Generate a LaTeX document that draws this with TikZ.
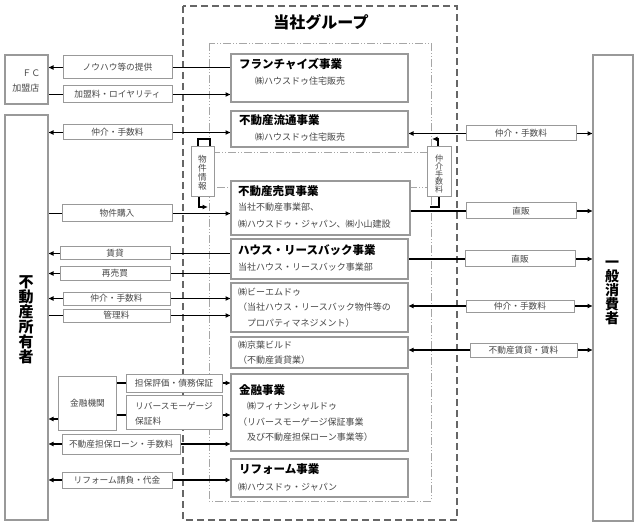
\documentclass[tikz,border=0pt]{standalone}
\usepackage{fontspec}
\setmainfont{Noto Sans CJK JP}
\usetikzlibrary{arrows.meta,backgrounds}
\tikzset{
 gbox/.style={draw=black!40, line width=1.2pt, fill=white, inner sep=0pt, outer sep=0pt},
 lbl/.style={gbox, line width=1pt, font=\fontsize{8.7}{10}\selectfont, text=black!72},
 ttl/.style={anchor=west, inner sep=0pt, font=\bfseries\fontsize{11.5}{13}\selectfont},
 subt/.style={anchor=west, inner sep=0pt, font=\fontsize{9}{10}\selectfont, text=black!72},
 conn/.style={line width=1.5pt, draw=black},
 arrR/.style={-{Latex[length=5.5pt,width=5pt]}},
 arrB/.style={{Latex[length=5.5pt,width=5pt]}-{Latex[length=5.5pt,width=5pt]}},
 ddot/.style={draw=black!35, line width=0.8pt, dash pattern=on 8pt off 2pt on 1pt off 2pt on 1pt off 2pt},
 bigdash/.style={draw=black!60, line width=1.6pt, dash pattern=on 7pt off 4pt},
 vtext/.style={align=center, inner sep=0pt, text=black!72},
}
\begin{document}
\begin{tikzpicture}[x=1pt,y=-1pt]
\useasboundingbox (0,0) rectangle (638,524);

% title
\node[font=\bfseries\fontsize{16}{18}\selectfont, inner sep=0pt] (title) at (321,22) {当社グループ};

% outer parties
\node[gbox, minimum width=43pt, minimum height=49pt] (fc) at (26.5,79.5) {};
\node[inner sep=0pt, font=\fontsize{9}{10}\selectfont, text=black!72] (fct1) at (31.5,73) {ＦＣ};
\node[inner sep=0pt, font=\fontsize{9}{10}\selectfont, text=black!72] (fct2) at (26,88) {加盟店};
\node[gbox, minimum width=43pt, minimum height=405pt] (own) at (26.5,317.5) {};
\node[align=center, inner sep=0pt, font=\bfseries\fontsize{15}{15}\selectfont] (ownt) at (26,320) {不\\動\\産\\所\\有\\者};
\node[gbox, minimum width=40pt, minimum height=466pt] (con) at (613,288) {};
\node[align=center, inner sep=0pt, font=\bfseries\fontsize{14}{14}\selectfont] (cont) at (612,292.5) {一\\般\\消\\費\\者};

% centre business boxes
\node[gbox, minimum width=177pt, minimum height=48pt] (fr) at (319.5,78) {};
\node[ttl] (frt) at (239,64) {フランチャイズ事業};
\node[subt] (frs) at (255,81) {㈱ハウスドゥ住宅販売};

\node[gbox, minimum width=177pt, minimum height=36pt] (ry) at (319.5,129) {};
\node[ttl] (ryt) at (239,120) {不動産流通事業};
\node[subt] (rys) at (255,137) {㈱ハウスドゥ住宅販売};

\node[gbox, minimum width=179pt, minimum height=54pt] (bb) at (320.5,208) {};
\node[ttl] (bbt) at (238,191) {不動産売買事業};
\node[subt] (bbs1) at (238,207) {当社不動産事業部、};
\node[subt] (bbs2) at (238,224) {㈱ハウスドゥ・ジャパン、㈱小山建設};

\node[gbox, minimum width=177pt, minimum height=40pt] (hl) at (319.5,259) {};
\node[ttl] (hlt) at (238,250) {ハウス・リースバック事業};
\node[subt] (hls) at (238,267) {当社ハウス・リースバック事業部};

\node[gbox, minimum width=177pt, minimum height=49pt] (bm) at (319.5,307.5) {};
\node[subt] (bms1) at (238,292) {㈱ビーエムドゥ};
\node[subt] (bms2) at (238,307) {（当社ハウス・リースバック物件等の};
\node[subt] (bms3) at (247,323) {プロパティマネジメント）};

\node[gbox, minimum width=177pt, minimum height=31pt] (kb) at (319.5,352.5) {};
\node[subt] (kbs1) at (238,345) {㈱京葉ビルド};
\node[subt] (kbs2) at (238,360) {（不動産賃貸業）};

\node[gbox, minimum width=177pt, minimum height=77pt] (fn) at (319.5,412.5) {};
\node[ttl] (fnt) at (239,390) {金融事業};
\node[subt] (fns1) at (247,406) {㈱フィナンシャルドゥ};
\node[subt] (fns2) at (238,422) {（リバースモーゲージ保証事業};
\node[subt] (fns3) at (247,437) {及び不動産担保ローン事業等）};

\node[gbox, minimum width=177pt, minimum height=38pt] (rf) at (319.5,478) {};
\node[ttl] (rft) at (239,469) {リフォーム事業};
\node[subt] (rfs) at (238,487) {㈱ハウスドゥ・ジャパン};

% vertical info boxes
\node[gbox, line width=1pt, minimum width=23pt, minimum height=50pt] (bj) at (202.5,172) {};
\node[vtext, font=\fontsize{8.6}{8.9}\selectfont] (bjt) at (202.5,172.5) {物\\件\\情\\報};
\node[gbox, line width=1pt, minimum width=24pt, minimum height=50pt] (cj) at (439,172) {};
\node[vtext, font=\fontsize{8}{7.8}\selectfont] (cjt) at (439,174) {仲\\介\\手\\数\\料};

% left labels
\node[lbl, minimum width=109pt, minimum height=23pt] (l1) at (117.5,67.5) {ノウハウ等の提供};
\node[lbl, minimum width=109pt, minimum height=17pt] (l2) at (117.5,94.5) {加盟料・ロイヤリティ};
\node[lbl, minimum width=109pt, minimum height=15pt] (l3) at (117.5,132.5) {仲介・手数料};
\node[lbl, minimum width=110pt, minimum height=17pt] (l4) at (117,213.5) {物件購入};
\node[lbl, minimum width=110pt, minimum height=13pt] (l5) at (115,253.5) {賃貸};
\node[lbl, minimum width=110pt, minimum height=13pt] (l6) at (115,273.5) {再売買};
\node[lbl, minimum width=107pt, minimum height=13pt] (l7) at (116.5,298.5) {仲介・手数料};
\node[lbl, minimum width=107pt, minimum height=13pt] (l8) at (116.5,315.5) {管理料};
\node[lbl, minimum width=58pt, minimum height=54pt] (kk) at (87,403) {};
\node[inner sep=0pt, font=\fontsize{8.7}{10}\selectfont, text=black!72] (kkt) at (87.5,403) {金融機関};
\node[lbl, minimum width=96pt, minimum height=18pt] (l9) at (174,383) {担保評価・債務保証};
\node[lbl, minimum width=96pt, minimum height=34pt] (l10) at (174,412) {};
\node[inner sep=0pt, anchor=west, font=\fontsize{8.7}{10}\selectfont, text=black!72] (l10a) at (135,406) {リバースモーゲージ};
\node[inner sep=0pt, anchor=west, font=\fontsize{8.7}{10}\selectfont, text=black!72] (l10b) at (135,421) {保証料};
\node[lbl, minimum width=118pt, minimum height=20pt] (l11) at (121,444) {不動産担保ローン・手数料};
\node[lbl, minimum width=110pt, minimum height=16pt] (l12) at (117,480) {リフォーム請負・代金};

% right labels
\node[lbl, minimum width=110pt, minimum height=15pt] (r1) at (521,133.5) {仲介・手数料};
\node[lbl, minimum width=110pt, minimum height=16pt] (r2) at (521,211) {直販};
\node[lbl, minimum width=110pt, minimum height=16pt] (r3) at (520,259) {直販};
\node[lbl, minimum width=108pt, minimum height=12pt] (r4) at (520,306) {仲介・手数料};
\node[lbl, minimum width=107pt, minimum height=14pt] (r5) at (523.5,350) {不動産賃貸・賃料};

\coordinate (y415) at (0,415);
\coordinate (y419) at (0,419);

\begin{pgfonlayer}{background}
\draw[ddot] (209,43) rectangle (431,152);
\draw[ddot] (209,187) rectangle (431,501);
\draw[bigdash] (183,6) rectangle (457,520);
% left connectors
\draw[conn,arrR] (fr.west |- l1) -- (fc.east |- l1);
\draw[conn,arrR] (fc.east |- l2) -- (fr.west |- l2);
\draw[conn,arrB] (own.east |- l3) -- (ry.west |- l3);
\draw[conn,arrR] (own.east |- l4) -- (bb.west |- l4);
\draw[conn,arrR] (hl.west |- l5) -- (own.east |- l5);
\draw[conn,arrR] (hl.west |- l6) -- (own.east |- l6);
\draw[conn,arrB] (own.east |- l7) -- (bm.west |- l7);
\draw[conn,arrR] (own.east |- l8) -- (bm.west |- l8);
\draw[conn] (kk.east |- l9) -- (l9.west);
\draw[conn,arrR] (l9.east) -- (fn.west |- l9);
\draw[conn] (kk.east |- y415) -- (l10.west |- y415);
\draw[conn,arrR] (l10.east |- y415) -- (fn.west |- y415);
\draw[conn,arrR] (kk.west |- y419) -- (own.east |- y419);
\draw[conn,arrB] (own.east |- l11) -- (fn.west |- l11);
\draw[conn,arrB] (own.east |- l12) -- (rf.west |- l12);
% right connectors
\draw[conn,arrB] (ry.east |- r1) -- (con.west |- r1);
\draw[conn,arrR] (bb.east |- r2) -- (con.west |- r2);
\draw[conn,arrR] (hl.east |- r3) -- (con.west |- r3);
\draw[conn,arrB] (bm.east |- r4) -- (con.west |- r4);
\draw[conn,arrB] (kb.east |- r5) -- (con.west |- r5);
% bracket connectors
\draw[conn] ([xshift=-4.5pt]bj.north) -- ++(0,-8) -- ++(12,0) -- ++(0,8);
\draw[conn,arrR] ([xshift=-3.5pt]bj.south) -- ++(0,10) -- ++(9,0);
\draw[conn,arrR] ([xshift=-1pt]cj.north) -- ++(0,-8) -- ++(-6,0);
\draw[conn] (cj.south) -- ++(0,10) -- ++(-9,0);
\end{pgfonlayer}
\end{tikzpicture}
\end{document}
